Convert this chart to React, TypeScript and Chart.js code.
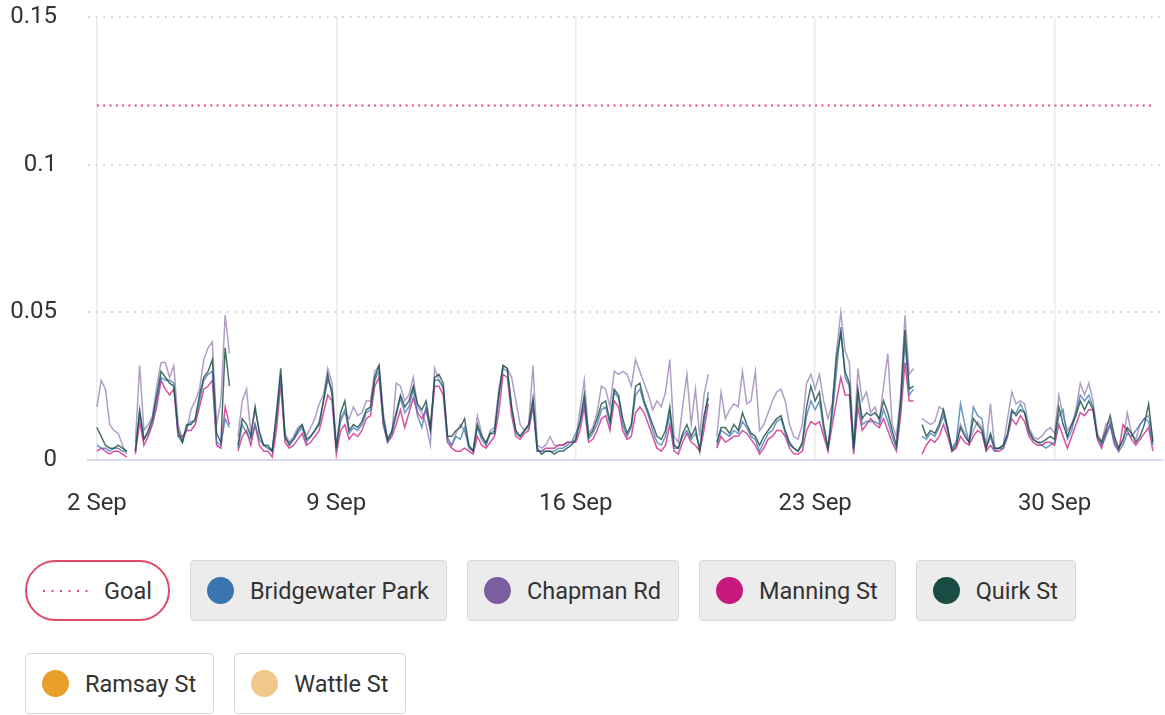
import React, { useEffect, useRef } from 'react';
import { Chart, registerables } from 'chart.js';

Chart.register(...registerables);

// ---- data (3-hourly readings starting 2 Sep 00:00) ----
const hoursPerStep = 3;
const tickDays = [0, 7, 14, 21, 28];
const tickLabels = ['2 Sep', '9 Sep', '16 Sep', '23 Sep', '30 Sep'];
const yTicks = [0, 0.05, 0.1, 0.15];
const goalValue = 0.12;

const quirkSt = [
  0.011, 0.008, 0.005, 0.004, 0.004, 0.005, 0.004, 0.003,
  null, 0.003, 0.017, 0.007, 0.010, 0.014, 0.022, 0.030,
  0.028, 0.026, 0.025, 0.010, 0.006, 0.012, 0.012, 0.014,
  0.022, 0.028, 0.030, 0.034, 0.009, 0.006, 0.038, 0.025,
  null, 0.005, 0.014, 0.012, 0.008, 0.018, 0.009, 0.005,
  0.005, 0.003, 0.016, 0.031, 0.008, 0.005, 0.007, 0.010,
  0.012, 0.007, 0.008, 0.010, 0.012, 0.020, 0.029, 0.022,
  0.004, 0.016, 0.020, 0.010, 0.012, 0.011, 0.013, 0.017,
  0.018, 0.028, 0.032, 0.014, 0.007, 0.010, 0.016, 0.022,
  0.018, 0.020, 0.025, 0.019, 0.017, 0.020, 0.011, 0.028,
  0.029, 0.026, 0.008, 0.008, 0.010, 0.011, 0.014, 0.005,
  0.003, 0.012, 0.008, 0.006, 0.009, 0.009, 0.022, 0.032,
  0.031, 0.018, 0.010, 0.008, 0.010, 0.012, 0.021, 0.004,
  0.002, 0.003, 0.003, 0.002, 0.003, 0.003, 0.004, 0.005,
  0.007, 0.013, 0.022, 0.008, 0.010, 0.014, 0.019, 0.020,
  0.013, 0.024, 0.022, 0.014, 0.009, 0.012, 0.025, 0.026,
  0.020, 0.016, 0.012, 0.008, 0.007, 0.010, 0.018, 0.005,
  0.004, 0.009, 0.012, 0.008, 0.011, 0.003, 0.015, 0.021,
  null, 0.006, 0.011, 0.011, 0.009, 0.012, 0.010, 0.016,
  0.012, 0.009, 0.008, 0.005, 0.008, 0.010, 0.012, 0.014,
  0.015, 0.010, 0.006, 0.004, 0.003, 0.006, 0.018, 0.025,
  0.020, 0.023, 0.012, 0.004, 0.018, 0.035, 0.043, 0.030,
  0.026, 0.004, 0.024, 0.014, 0.016, 0.015, 0.016, 0.014,
  0.020, 0.016, 0.010, 0.005, 0.020, 0.044, 0.024, 0.025,
  null, 0.012, 0.008, 0.010, 0.009, 0.012, 0.017, 0.011,
  0.003, 0.005, 0.011, 0.008, 0.006, 0.014, 0.012, 0.010,
  0.004, 0.009, 0.004, 0.004, 0.005, 0.009, 0.017, 0.015,
  0.017, 0.016, 0.010, 0.007, 0.006, 0.006, 0.007, 0.008,
  0.007, 0.018, 0.012, 0.008, 0.012, 0.015, 0.020, 0.017,
  0.020, 0.017, 0.008, 0.006, 0.010, 0.015, 0.008, 0.004,
  0.007, 0.011, 0.009, 0.006, 0.008, 0.012, 0.019, 0.006,
];

const chapmanRd = [
  0.018, 0.027, 0.024, 0.012, 0.010, 0.009, 0.005, 0.002,
  null, 0.006, 0.032, 0.010, 0.012, 0.015, 0.025, 0.033,
  0.033, 0.028, 0.032, 0.012, 0.007, 0.010, 0.017, 0.020,
  0.024, 0.034, 0.038, 0.040, 0.012, 0.020, 0.049, 0.036,
  null, 0.008, 0.020, 0.024, 0.009, 0.017, 0.010, 0.005,
  0.004, 0.003, 0.014, 0.029, 0.009, 0.006, 0.008, 0.011,
  0.012, 0.008, 0.011, 0.014, 0.019, 0.022, 0.031, 0.026,
  0.005, 0.013, 0.016, 0.014, 0.018, 0.015, 0.016, 0.020,
  0.020, 0.030, 0.032, 0.016, 0.007, 0.009, 0.026, 0.025,
  0.020, 0.022, 0.028, 0.018, 0.016, 0.012, 0.005, 0.031,
  0.027, 0.024, 0.008, 0.005, 0.009, 0.012, 0.010, 0.005,
  0.003, 0.015, 0.009, 0.005, 0.010, 0.011, 0.024, 0.032,
  0.031, 0.028, 0.020, 0.012, 0.010, 0.012, 0.032, 0.005,
  0.004, 0.005, 0.008, 0.005, 0.005, 0.005, 0.006, 0.006,
  0.007, 0.017, 0.027, 0.009, 0.011, 0.016, 0.025, 0.024,
  0.018, 0.030, 0.029, 0.030, 0.029, 0.025, 0.034, 0.030,
  0.026, 0.022, 0.017, 0.020, 0.018, 0.023, 0.034, 0.008,
  0.006, 0.018, 0.029, 0.012, 0.024, 0.008, 0.022, 0.029,
  null, 0.008, 0.023, 0.014, 0.017, 0.019, 0.018, 0.030,
  0.019, 0.020, 0.030, 0.010, 0.012, 0.016, 0.020, 0.023,
  0.024, 0.020, 0.012, 0.008, 0.007, 0.012, 0.026, 0.029,
  0.024, 0.029, 0.020, 0.014, 0.019, 0.037, 0.050, 0.037,
  0.033, 0.005, 0.031, 0.020, 0.023, 0.016, 0.018, 0.013,
  0.025, 0.036, 0.012, 0.008, 0.022, 0.049, 0.029, 0.031,
  null, 0.014, 0.013, 0.012, 0.013, 0.018, 0.017, 0.010,
  0.004, 0.006, 0.012, 0.009, 0.006, 0.010, 0.013, 0.011,
  0.005, 0.019, 0.004, 0.004, 0.005, 0.014, 0.023, 0.019,
  0.020, 0.019, 0.011, 0.008, 0.007, 0.008, 0.010, 0.011,
  0.009, 0.022, 0.015, 0.010, 0.012, 0.017, 0.026, 0.022,
  0.026, 0.020, 0.009, 0.006, 0.012, 0.013, 0.007, 0.004,
  0.006, 0.016, 0.009, 0.007, 0.012, 0.014, 0.015, 0.007,
];

const manningSt = [
  0.003, 0.004, 0.003, 0.002, 0.003, 0.003, 0.002, 0.001,
  null, 0.002, 0.013, 0.005, 0.008, 0.012, 0.018, 0.027,
  0.024, 0.022, 0.024, 0.008, 0.008, 0.010, 0.010, 0.012,
  0.018, 0.024, 0.025, 0.027, 0.005, 0.004, 0.018, 0.012,
  null, 0.003, 0.008, 0.010, 0.005, 0.012, 0.005, 0.003,
  0.003, 0.001, 0.010, 0.026, 0.006, 0.004, 0.005, 0.007,
  0.009, 0.005, 0.006, 0.008, 0.010, 0.016, 0.022, 0.020,
  0.002, 0.010, 0.012, 0.007, 0.009, 0.008, 0.010, 0.014,
  0.015, 0.025, 0.028, 0.012, 0.006, 0.008, 0.012, 0.017,
  0.011, 0.016, 0.021, 0.016, 0.014, 0.017, 0.010, 0.025,
  0.025, 0.022, 0.006, 0.004, 0.003, 0.003, 0.004, 0.003,
  0.002, 0.008, 0.005, 0.004, 0.006, 0.008, 0.016, 0.029,
  0.028, 0.015, 0.008, 0.007, 0.009, 0.010, 0.018, 0.003,
  0.003, 0.004, 0.004, 0.004, 0.005, 0.005, 0.006, 0.006,
  0.006, 0.010, 0.018, 0.006, 0.007, 0.010, 0.014, 0.015,
  0.010, 0.020, 0.018, 0.010, 0.007, 0.008, 0.016, 0.018,
  0.016, 0.012, 0.008, 0.004, 0.003, 0.005, 0.012, 0.003,
  0.002, 0.006, 0.009, 0.006, 0.005, 0.003, 0.010, 0.019,
  null, 0.004, 0.008, 0.006, 0.007, 0.008, 0.008, 0.010,
  0.009, 0.007, 0.005, 0.002, 0.004, 0.007, 0.008, 0.010,
  0.010, 0.008, 0.004, 0.002, 0.002, 0.003, 0.010, 0.013,
  0.012, 0.013, 0.008, 0.003, 0.012, 0.020, 0.028, 0.022,
  0.022, 0.002, 0.018, 0.010, 0.012, 0.014, 0.012, 0.011,
  0.014, 0.010, 0.006, 0.003, 0.015, 0.033, 0.020, 0.020,
  null, 0.002, 0.005, 0.007, 0.006, 0.008, 0.012, 0.008,
  0.003, 0.004, 0.008, 0.006, 0.005, 0.008, 0.010, 0.009,
  0.003, 0.005, 0.003, 0.003, 0.004, 0.008, 0.014, 0.012,
  0.015, 0.013, 0.008, 0.006, 0.005, 0.005, 0.006, 0.006,
  0.005, 0.012, 0.008, 0.004, 0.008, 0.012, 0.016, 0.015,
  0.017, 0.017, 0.007, 0.004, 0.009, 0.012, 0.006, 0.003,
  0.012, 0.010, 0.007, 0.005, 0.007, 0.009, 0.011, 0.003,
];

const bridgewaterPark = [
  0.005, 0.004, 0.004, 0.003, 0.004, 0.004, 0.003, 0.003,
  null, 0.003, 0.016, 0.007, 0.009, 0.013, 0.020, 0.028,
  0.027, 0.027, 0.026, 0.008, 0.006, 0.011, 0.013, 0.013,
  0.020, 0.027, 0.029, 0.030, 0.006, 0.005, 0.014, 0.011,
  null, 0.004, 0.012, 0.009, 0.007, 0.012, 0.007, 0.005,
  0.004, 0.003, 0.014, 0.028, 0.007, 0.006, 0.007, 0.009,
  0.011, 0.006, 0.008, 0.010, 0.013, 0.020, 0.027, 0.024,
  0.003, 0.014, 0.017, 0.009, 0.011, 0.010, 0.012, 0.016,
  0.017, 0.027, 0.030, 0.012, 0.006, 0.009, 0.015, 0.021,
  0.016, 0.018, 0.024, 0.015, 0.011, 0.018, 0.010, 0.027,
  0.027, 0.025, 0.007, 0.005, 0.008, 0.007, 0.011, 0.004,
  0.003, 0.011, 0.007, 0.005, 0.009, 0.010, 0.021, 0.031,
  0.030, 0.018, 0.009, 0.008, 0.010, 0.011, 0.019, 0.003,
  0.003, 0.003, 0.003, 0.003, 0.004, 0.004, 0.005, 0.006,
  0.009, 0.012, 0.020, 0.007, 0.009, 0.012, 0.017, 0.018,
  0.012, 0.023, 0.021, 0.012, 0.008, 0.011, 0.022, 0.024,
  0.019, 0.015, 0.010, 0.006, 0.005, 0.008, 0.016, 0.004,
  0.004, 0.008, 0.010, 0.007, 0.009, 0.004, 0.013, 0.023,
  null, 0.005, 0.010, 0.009, 0.008, 0.010, 0.009, 0.013,
  0.011, 0.008, 0.007, 0.003, 0.006, 0.009, 0.010, 0.013,
  0.014, 0.009, 0.005, 0.004, 0.003, 0.005, 0.015, 0.020,
  0.017, 0.020, 0.010, 0.004, 0.015, 0.030, 0.045, 0.028,
  0.025, 0.003, 0.022, 0.012, 0.013, 0.013, 0.013, 0.012,
  0.017, 0.013, 0.008, 0.004, 0.018, 0.040, 0.022, 0.024,
  null, 0.008, 0.007, 0.009, 0.008, 0.011, 0.015, 0.010,
  0.004, 0.006, 0.019, 0.012, 0.006, 0.018, 0.015, 0.014,
  0.004, 0.008, 0.003, 0.004, 0.004, 0.008, 0.016, 0.016,
  0.019, 0.016, 0.009, 0.007, 0.006, 0.005, 0.004, 0.005,
  0.006, 0.015, 0.017, 0.007, 0.010, 0.016, 0.022, 0.020,
  0.022, 0.018, 0.008, 0.005, 0.008, 0.012, 0.005, 0.003,
  0.005, 0.009, 0.008, 0.010, 0.012, 0.014, 0.013, 0.005,
];

const seriesNames = ['Bridgewater Park', 'Chapman Rd', 'Manning St', 'Quirk St', 'Ramsay St', 'Wattle St'];
const seriesColors = ['#3a75b0', '#7b5ea0', '#c8197f', '#1a4c44', '#e89f2b', '#f0c98a'];
const lineColors = [
  'rgba(58,117,176,0.75)',
  'rgba(123,94,160,0.6)',
  'rgba(200,25,127,0.75)',
  'rgba(26,76,68,0.8)',
];
const activeSeries = [true, true, true, true, false, false];
const goalColor = '#dc4b68';

const FONT = 'Roboto, "Liberation Sans", Arial, sans-serif';

function toPoints(values: (number | null)[]) {
  return values.map((v, i) => ({ x: (i * hoursPerStep) / 24, y: v }));
}

function LineChart() {
  const ref = useRef<HTMLCanvasElement | null>(null);
  useEffect(() => {
    if (!ref.current) return;
    const seriesData = [bridgewaterPark, chapmanRd, manningSt, quirkSt];
    const lastX = ((quirkSt.length - 1) * hoursPerStep) / 24;
    const order = [2, 4, 3, 1];
    const datasets: any[] = seriesData.map((vals, k) => ({
      label: seriesNames[k],
      data: toPoints(vals),
      borderColor: lineColors[k],
      backgroundColor: lineColors[k],
      borderWidth: 1.5,
      pointRadius: 0,
      tension: 0,
      spanGaps: false,
      order: order[k],
    }));
    datasets.push({
      label: 'Goal',
      data: [
        { x: 0, y: goalValue },
        { x: lastX, y: goalValue },
      ],
      borderColor: goalColor,
      borderWidth: 2,
      borderDash: [2, 4.3],
      pointRadius: 0,
      order: 0,
    });
    const chart = new Chart(ref.current, {
      type: 'line',
      data: { datasets },
      options: {
        animation: false,
        responsive: false,
        maintainAspectRatio: false,
        layout: { padding: { top: 17, right: 2, left: 0, bottom: 0 } },
        plugins: { legend: { display: false }, tooltip: { enabled: false } },
        scales: {
          x: {
            type: 'linear',
            min: -0.26,
            max: 31.17,
            afterBuildTicks: (scale: any) => {
              scale.ticks = tickDays.map((v) => ({ value: v }));
            },
            afterFit: (scale: any) => {
              scale.height = 75;
              scale.paddingLeft = 0;
              scale.paddingRight = 0;
            },
            ticks: {
              autoSkip: false,
              maxRotation: 0,
              padding: 30,
              color: '#333',
              font: { family: FONT, size: 24 },
              callback: (v: any) => {
                const i = tickDays.indexOf(Number(v));
                return i >= 0 ? tickLabels[i] : '';
              },
            },
            grid: { color: '#ececec', lineWidth: 1.5, drawTicks: false },
            border: { display: true, color: '#d8dbee', width: 2 },
          },
          y: {
            min: 0,
            max: 0.15,
            afterBuildTicks: (scale: any) => {
              scale.ticks = yTicks.map((v) => ({ value: v }));
            },
            afterFit: (scale: any) => {
              scale.width = 88;
              scale.paddingTop = 0;
              scale.paddingBottom = 0;
            },
            ticks: {
              padding: 31,
              color: '#333',
              font: { family: FONT, size: 24 },
              callback: (v: any) => String(Number(v)),
            },
            grid: { color: '#d6d6d6', lineWidth: 2, drawTicks: false },
            border: { display: false, dash: [2, 5.7] },
          },
        },
      },
    });
    return () => chart.destroy();
  }, []);
  return <canvas ref={ref} width={1165} height={535} style={{ display: 'block' }} />;
}

function Legend() {
  const btnBase: React.CSSProperties = {
    boxSizing: 'border-box',
    height: 61,
    display: 'flex',
    alignItems: 'center',
    fontFamily: FONT,
    fontSize: 23.5,
    color: '#333',
    whiteSpace: 'nowrap',
  };
  return (
    <div
      style={{
        position: 'absolute',
        top: 560,
        left: 25,
        width: 1120,
        display: 'flex',
        flexWrap: 'wrap',
        columnGap: 20,
        rowGap: 32,
      }}
    >
      <div
        style={{
          ...btnBase,
          border: `2px solid ${goalColor}`,
          borderRadius: 31,
          background: '#fff',
          padding: '0 16px 0 15px',
        }}
      >
        <svg width={47} height={4} style={{ marginRight: 15 }}>
          <line x1={1} y1={2} x2={47} y2={2} stroke={goalColor} strokeWidth={2} strokeDasharray="2 6.5" />
        </svg>
        <span>Goal</span>
      </div>
      {seriesNames.map((name, k) => (
        <div
          key={name}
          style={{
            ...btnBase,
            border: '1px solid #d9d9d9',
            borderRadius: 4,
            background: activeSeries[k] ? '#ececec' : '#fff',
            padding: '0 17px 0 16px',
          }}
        >
          <span
            style={{
              width: 27,
              height: 27,
              borderRadius: '50%',
              background: seriesColors[k],
              marginRight: 16,
              flex: '0 0 auto',
            }}
          />
          <span>{name}</span>
        </div>
      ))}
    </div>
  );
}

export default function App() {
  return (
    <div style={{ position: 'absolute', top: 0, left: 0, width: 1165, height: 715, background: '#fff', overflow: 'hidden' }}>
      <LineChart />
      <Legend />
    </div>
  );
}
